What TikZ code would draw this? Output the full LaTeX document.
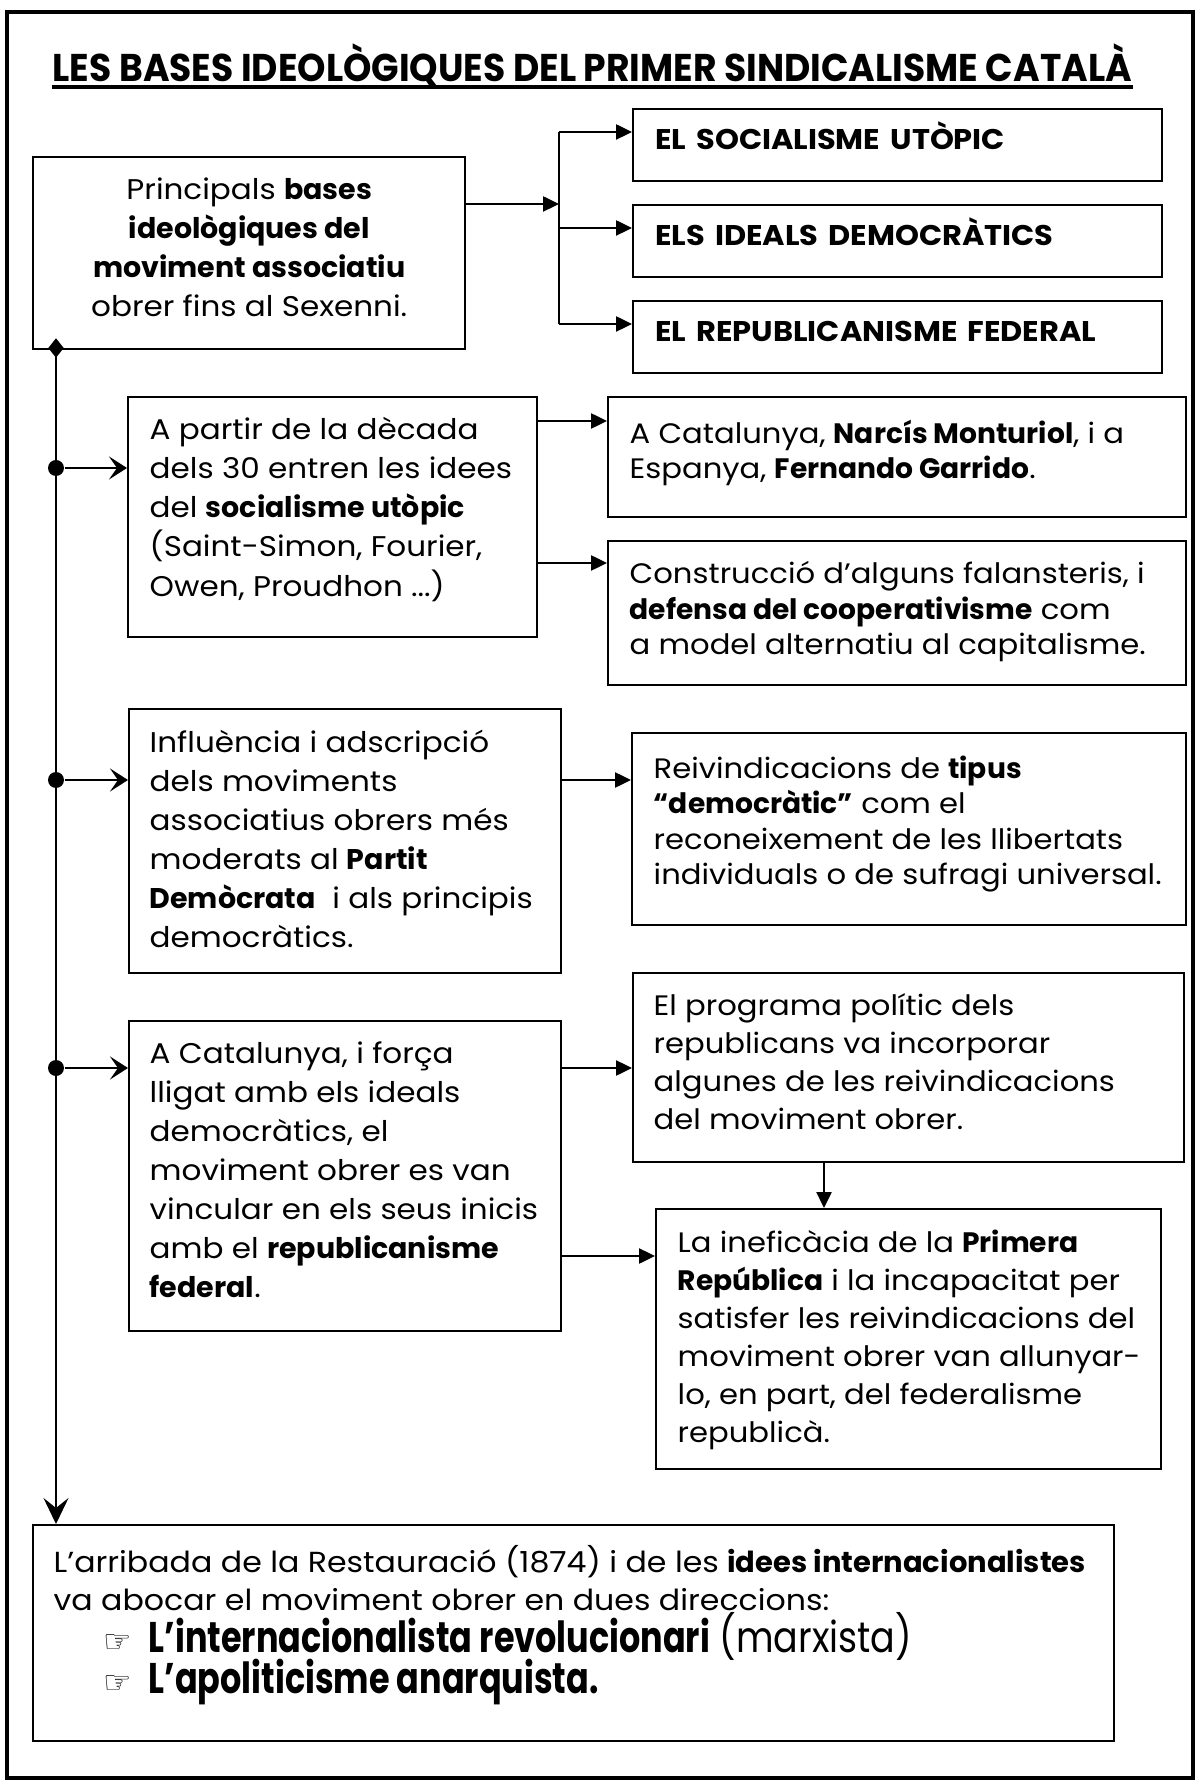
\documentclass[tikz,border=0pt]{standalone}
\usepackage{fontspec}
\usepackage{graphicx}
\setmainfont{Poppins}[UprightFeatures={FakeStretch=1.09}]
\newfontfamily\handfont{DejaVu Sans}
\usetikzlibrary{shapes.geometric, arrows.meta, positioning, calc}
\newcommand{\hsc}[2]{\scalebox{#1}[1]{#2}}
\tikzset{
	blk/.style ={rectangle, draw=black, line width=0.7pt, anchor=north west, inner sep=0pt},
	head/.style={blk, minimum width=5.29cm, minimum height=0.72cm, text width=4.85cm, align=left, inner xsep=0.22cm, text height=0.16cm, text depth=0.08cm, font=\fontsize{8.1}{10}\selectfont\bfseries},
	txt/.style ={anchor=north west, align=left, inner sep=0pt, font=\fontsize{8.1}{11.1}\selectfont},
	tight/.style={font=\fontsize{8}{10.1}\selectfont},
	mid/.style ={font=\fontsize{8}{10.8}\selectfont},
	dot/.style ={circle, fill=black, inner sep=0pt, minimum size=1.6mm},
	sig/.style ={-{Triangle[length=1.6mm, width=1.5mm]}, line width=0.7pt},
	feed/.style={-{Stealth[length=1.8mm, width=2.3mm, inset=0.8mm]}, line width=0.7pt},
	bullet/.style={anchor=base west, inner sep=0pt, font=\fontsize{12.2}{14}\selectfont},
}
\begin{document}
\begin{tikzpicture}
	\useasboundingbox (0,0) rectangle (12,-17.82);
	\draw[line width=1pt] (0.07,-0.12) rectangle (11.93,-17.78);
	% title
	\node[anchor=base west, inner sep=0pt, font=\fontsize{11}{12}\selectfont\bfseries] (title) at (0.52,-0.82) {\hsc{0.934}{LES BASES IDEOLÒGIQUES DEL PRIMER SINDICALISME CATALÀ}};
	\draw[line width=0.9pt] ([yshift=-0.5mm]title.base west) -- ([yshift=-0.5mm]title.base east);
	% bases
	\node[blk, minimum width=4.32cm, minimum height=1.92cm] (base) at (0.32,-1.56) {};
	\node[txt, anchor=north, align=center] (baseT) at ([yshift=-2.1mm]base.north) {Principals \textbf{bases}\\ \textbf{ideològiques del}\\ \textbf{moviment associatiu}\\ obrer fins al Sexenni.};
	\node[head] (socu) at (6.32,-1.08) {\hsc{1.07}{EL SOCIALISME UTÒPIC}};
	\node[head] (idem) at (6.32,-2.04) {\hsc{1.07}{ELS IDEALS DEMOCRÀTICS}};
	\node[head] (repf) at (6.32,-3.00) {\hsc{1.07}{EL REPUBLICANISME FEDERAL}};
	\coordinate (b1) at (5.59,-1.32);
	\coordinate (b2) at (5.59,-2.28);
	\coordinate (b3) at (5.59,-3.24);
	\coordinate (bm) at (5.59,-2.04);
	\draw[line width=0.7pt] (b1) -- (b3);
	\draw[sig] (bm -| base.east) -- (bm);
	\draw[sig] (b1) -- (b1 -| socu.west);
	\draw[sig] (b2) -- (b2 -| idem.west);
	\draw[sig] (b3) -- (b3 -| repf.west);
	% trunk
	\node[diamond, fill=black, inner sep=0pt, minimum width=1.6mm, minimum height=2mm] (j0) at (0.56,-3.48) {};
	\node[dot] (dA) at (0.56,-4.68) {};
	\node[dot] (dB) at (0.56,-7.80) {};
	\node[dot] (dC) at (0.56,-10.68) {};
	% socialisme utopic
	\node[blk, minimum width=4.09cm, minimum height=2.40cm] (utop) at (1.27,-3.96) {};
	\node[txt] (utopT) at ($(utop.north west)+(0.22,-0.21)$) {A partir de la dècada\\ dels 30 entren les idees\\ del \textbf{socialisme utòpic}\\ (Saint-Simon, Fourier,\\ Owen, Proudhon ...)};
	\draw[feed] (dA) -- (dA -| utop.west);
	\node[blk, minimum width=5.78cm, minimum height=1.20cm] (mont) at (6.07,-3.96) {};
	\node[txt, tight] (montT) at ($(mont.north west)+(0.22,-0.23)$) {A Catalunya, \textbf{Narcís Monturiol}, i a\\ Espanya, \textbf{Fernando Garrido}.};
	\draw[sig] ([yshift=-2.5mm]utop.north east) -- ([yshift=-2.5mm]mont.north west);
	\node[blk, minimum width=5.78cm, minimum height=1.44cm] (fala) at (6.07,-5.40) {};
	\node[txt, tight] (falaT) at ($(fala.north west)+(0.22,-0.21)$) {Construcció d’alguns falansteris, i\\ \textbf{defensa del cooperativisme} com\\ a model alternatiu al capitalisme.};
	\coordinate (pF) at ($(fala.north west)+(0,-0.23)$);
	\draw[sig] (pF -| utop.east) -- (pF);
	% ideals democratics
	\node[blk, minimum width=4.32cm, minimum height=2.64cm] (demo) at (1.28,-7.08) {};
	\node[txt] (demoT) at ($(demo.north west)+(0.21,-0.21)$) {Influència i adscripció\\ dels moviments\\ associatius obrers més\\ moderats al \textbf{Partit}\\ \textbf{Demòcrata}~ i als principis\\ democràtics.};
	\draw[feed] (dB) -- (dB -| demo.west);
	\node[blk, minimum width=5.54cm, minimum height=1.92cm] (reiv) at (6.31,-7.32) {};
	\node[txt, tight] (reivT) at ($(reiv.north west)+(0.22,-0.23)$) {Reivindicacions de \textbf{tipus}\\ \textbf{“democràtic”} com el\\ reconeixement de les llibertats\\ individuals o de sufragi universal.};
	\draw[sig] (dB -| demo.east) -- (dB -| reiv.west);
	% republicanisme federal
	\node[blk, minimum width=4.32cm, minimum height=3.10cm] (fede) at (1.28,-10.20) {};
	\node[txt] (fedeT) at ($(fede.north west)+(0.21,-0.21)$) {A Catalunya, i força\\ lligat amb els ideals\\ democràtics, el\\ moviment obrer es van\\ vincular en els seus inicis\\ amb el \textbf{republicanisme}\\ \textbf{federal}.};
	\draw[feed] (dC) -- (dC -| fede.west);
	\node[blk, minimum width=5.51cm, minimum height=1.89cm] (prog) at (6.32,-9.72) {};
	\node[txt, mid] (progT) at ($(prog.north west)+(0.21,-0.21)$) {El programa polític dels\\ republicans va incorporar\\ algunes de les reivindicacions\\ del moviment obrer.};
	\draw[sig] (dC -| fede.east) -- (dC -| prog.west);
	\node[blk, minimum width=5.05cm, minimum height=2.60cm] (inef) at (6.55,-12.08) {};
	\node[txt, mid] (inefT) at ($(inef.north west)+(0.22,-0.21)$) {La ineficàcia de la \textbf{Primera}\\ \textbf{República} i la incapacitat per\\ satisfer les reivindicacions del\\ moviment obrer van allunyar-\\ lo, en part, del federalisme\\ republicà.};
	\coordinate (pI) at ($(inef.north west)+(0,-0.48)$);
	\draw[sig] (pI -| fede.east) -- (pI);
	\coordinate (pP) at ($(prog.south west)+(1.92,0)$);
	\draw[sig] (pP) -- (pP |- inef.north);
	% restauracio
	\node[blk, minimum width=10.81cm, minimum height=2.16cm] (rest) at (0.32,-15.24) {};
	\node[txt, font=\fontsize{8.25}{10.8}\selectfont] (restT) at ($(rest.north west)+(0.21,-0.21)$) {L’arribada de la Restauració (1874) i de les \textbf{idees internacionalistes}\\ va abocar el moviment obrer en dues direccions:};
	\node[bullet] (marx) at (1.03,-16.52) {\makebox[4.5mm][l]{\handfont\fontsize{9}{9}\selectfont ☞}\hsc{0.78}{\textbf{L’internacionalista revolucionari} (marxista)}};
	\node[bullet] (anar) at (1.03,-16.93) {\makebox[4.5mm][l]{\handfont\fontsize{9}{9}\selectfont ☞}\hsc{0.78}{\textbf{L’apoliticisme anarquista.}}};
	\draw[line width=0.7pt, -{Stealth[length=2.6mm, width=2.5mm, inset=1mm]}] (j0.center) -- (j0 |- rest.north);
\end{tikzpicture}
\end{document}
